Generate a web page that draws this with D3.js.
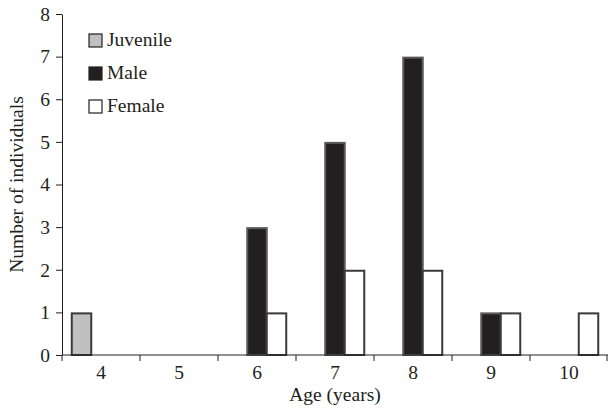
<!DOCTYPE html>
<html>
<head>
<meta charset="utf-8">
<script src="https://cdn.jsdelivr.net/npm/d3@7"></script>
<style>
  body { margin: 0; background: #fff; }
  text { font-family: "Liberation Serif", "DejaVu Serif", serif; fill: #231f20; }
</style>
</head>
<body>
<div id="chart"></div>
<script>
// Ages on the x axis
var ages = ["4", "5", "6", "7", "8", "9", "10"];
// Series names and counts per age
var groups = ["Juvenile", "Male", "Female"];
var juvenile = [1, 0, 0, 0, 0, 0, 0];
var male = [0, 0, 3, 5, 7, 1, 0];
var female = [0, 0, 1, 2, 2, 1, 1];
var yTicks = [0, 1, 2, 3, 4, 5, 6, 7, 8];

var fills = { Juvenile: "#c0c0c0", Male: "#231f20", Female: "#ffffff" };
var strokes = { Juvenile: "#3a3a3a", Male: "#5a5a5a", Female: "#3a3a3a" };

var width = 608, height = 408;
var margin = { top: 14, right: 0, bottom: 53, left: 62 };
var fontSize = "19.5px";

var svg = d3.select("#chart").append("svg")
    .attr("width", width)
    .attr("height", height);

var x = d3.scaleBand()
    .domain(ages)
    .range([margin.left, width - margin.right]);

var x1 = d3.scaleBand()
    .domain(groups)
    .range([0, x.bandwidth()])
    .paddingOuter(0.5);

var y = d3.scaleLinear()
    .domain([0, 8])
    .range([height - margin.bottom, margin.top]);

// build rows from the arrays
var series = { Juvenile: juvenile, Male: male, Female: female };
var rows = [];
ages.forEach(function(a, i) {
    groups.forEach(function(g) {
        if (series[g][i] > 0) rows.push({ age: a, group: g, value: series[g][i] });
    });
});

svg.append("g").selectAll("rect")
    .data(rows)
    .enter()
    .append("rect")
    .attr("x", function(d) { return x(d.age) + x1(d.group); })
    .attr("y", function(d) { return y(d.value) + 1; })
    .attr("width", x1.bandwidth())
    .attr("height", function(d) { return y(0) - y(d.value) - 1; })
    .attr("fill", function(d) { return fills[d.group]; })
    .attr("stroke", function(d) { return strokes[d.group]; })
    .attr("stroke-width", 2);

// y axis
var yAxis = svg.append("g")
    .attr("transform", "translate(" + margin.left + ",0)")
    .call(d3.axisLeft(y).tickValues(yTicks).tickSize(6).tickSizeOuter(0).tickPadding(6));
yAxis.selectAll("text").style("font-size", fontSize);
yAxis.selectAll("path, line").attr("stroke", "#231f20");

// x axis: ticks on band edges
var xAxis = svg.append("g")
    .attr("transform", "translate(0," + y(0) + ")");
xAxis.append("line")
    .attr("x1", margin.left).attr("x2", width)
    .attr("stroke", "#231f20");
var edges = ages.map(function(a) { return x(a); }).concat([x.range()[1] - 1]);
xAxis.selectAll(".edge")
    .data(edges)
    .enter()
    .append("line")
    .attr("class", "edge")
    .attr("x1", function(d) { return d; })
    .attr("x2", function(d) { return d; })
    .attr("y1", 0).attr("y2", 6)
    .attr("stroke", "#231f20");
xAxis.selectAll(".lab")
    .data(ages)
    .enter()
    .append("text")
    .attr("class", "lab")
    .attr("x", function(d) { return x(d) + x.bandwidth() / 2; })
    .attr("y", 24)
    .attr("text-anchor", "middle")
    .style("font-size", fontSize)
    .text(function(d) { return d; });

// axis titles
svg.append("text")
    .attr("x", 335)
    .attr("y", 401)
    .attr("text-anchor", "middle")
    .style("font-size", fontSize)
    .text("Age (years)");

svg.append("text")
    .attr("transform", "translate(23," + ((margin.top + y(0)) / 2) + ") rotate(-90)")
    .attr("text-anchor", "middle")
    .style("font-size", fontSize)
    .text("Number of individuals");

// legend
var legend = svg.append("g").selectAll("g")
    .data(groups)
    .enter()
    .append("g")
    .attr("transform", function(d, i) { return "translate(89," + (34 + i * 33) + ")"; });
legend.append("rect")
    .attr("width", 13).attr("height", 13)
    .attr("fill", function(d) { return fills[d]; })
    .attr("stroke", "#231f20")
    .attr("stroke-width", 1.2);
legend.append("text")
    .attr("x", 18)
    .attr("y", 12)
    .style("font-size", fontSize)
    .text(function(d) { return d; });
</script>
</body>
</html>
